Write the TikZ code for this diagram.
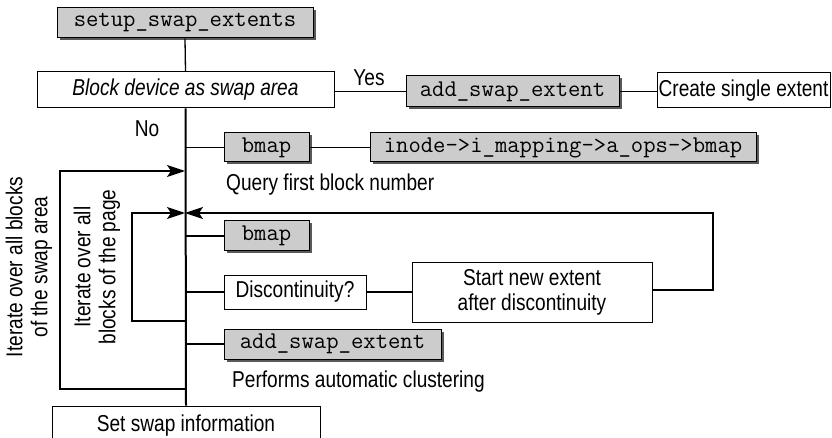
\documentclass[tikz,border=0pt]{standalone}
\usepackage{fontspec}
\setmainfont{Liberation Sans}[FakeStretch=0.83]
\usetikzlibrary{shadows,arrows.meta}
\begin{document}
\begin{tikzpicture}[x=1pt,y=-1pt,
  every node/.style={font=\fontsize{23}{25}\selectfont, inner sep=0pt},
  graybox/.style={draw, line width=1pt, fill=black!20, font=\ttfamily\fontsize{24}{25}\selectfont,
    drop shadow={shadow xshift=2.5pt, shadow yshift=-2.5pt, fill=black!65, opacity=1}},
  whitebox/.style={draw, line width=1pt, fill=white, align=center},
  conn/.style={line width=1.3pt},
  spinel/.style={line width=2pt},
  arr/.style={line width=1.3pt, -{Stealth[length=18pt,width=12pt,inset=4pt]}},
  lbl/.style={}
]
\useasboundingbox (0,0) rectangle (832,438);
\coordinate (sp) at (185,0);
% boxes
\node[graybox, minimum width=256, minimum height=30] (setup) at (185,23) {setup\_swap\_extents};
\node[whitebox, minimum width=297, minimum height=36, font=\itshape\fontsize{23}{25}\selectfont] (block) at (185.5,90) {Block device as swap area};
\node[graybox, minimum width=213, minimum height=31] (addse1) at (512.5,91.5) {add\_swap\_extent};
\node[whitebox, minimum width=173, minimum height=35] (create) at (743.5,90.5) {Create single extent};
\node[graybox, minimum width=85, minimum height=29] (bmap1) at (266.5,147.5) {bmap};
\node[graybox, minimum width=386, minimum height=29] (inode) at (563,147.5) {inode->i\_mapping->a\_ops->bmap};
\node[graybox, minimum width=85, minimum height=30] (bmap2) at (266.5,236) {bmap};
\node[whitebox, minimum width=142, minimum height=34] (disc) at (295,292) {Discontinuity?};
\node[whitebox, minimum width=240, minimum height=59] (start) at (532,292.5) {Start new extent\\after discontinuity};
\node[graybox, minimum width=217, minimum height=30] (addse2) at (332.5,344) {add\_swap\_extent};
\node[whitebox, minimum width=268, minimum height=40] (setinfo) at (186,426) {Set swap information};
% labels
\node[lbl] (yes) at (369,78) {Yes};
\node[lbl] (no) at (147,129) {No};
\node[lbl, anchor=west] (query) at (226,185) {Query first block number};
\node[lbl, anchor=west] (perf) at (232,382) {Performs automatic clustering};
\node[lbl, rotate=90, align=center] (outer) at (29,267) {Iterate over all blocks\\of the swap area};
\node[lbl, rotate=90, align=center] (inner) at (97,267) {Iterate over all\\blocks of the page};
% connectors
\draw[conn] (setup.south) -- (block.north);
\draw[spinel] (block.south) -- (setinfo.north);
\draw[conn] (block.east |- addse1.west) -- (addse1.west);
\draw[conn] (addse1.east) -- (addse1.east -| create.west);
\draw[conn] (bmap1.west -| sp) -- (bmap1.west);
\draw[conn] (bmap1.east) -- (inode.west);
\draw[conn] (bmap2.west -| sp) -- (bmap2.west);
\draw[conn] (disc.west -| sp) -- (disc.west);
\draw[conn] (disc.east) -- (disc.east -| start.west);
\draw[conn] (addse2.west -| sp) -- (addse2.west);
% loops
\coordinate (o1) at (60,171);
\coordinate (o2) at (60,389);
\coordinate (i1) at (132,213);
\coordinate (i2) at (132,321);
\coordinate (r1) at (713,213);
\coordinate (r2) at (713,290);
\draw[arr] (sp |- o2) -- (o2) -- (o1) -- (sp |- o1);
\draw[arr] (sp |- i2) -- (i2) -- (i1) -- (sp |- i1);
\draw[arr] (start.east |- r2) -- (r2) -- (r1) -- (sp |- r1);
\end{tikzpicture}
\end{document}
